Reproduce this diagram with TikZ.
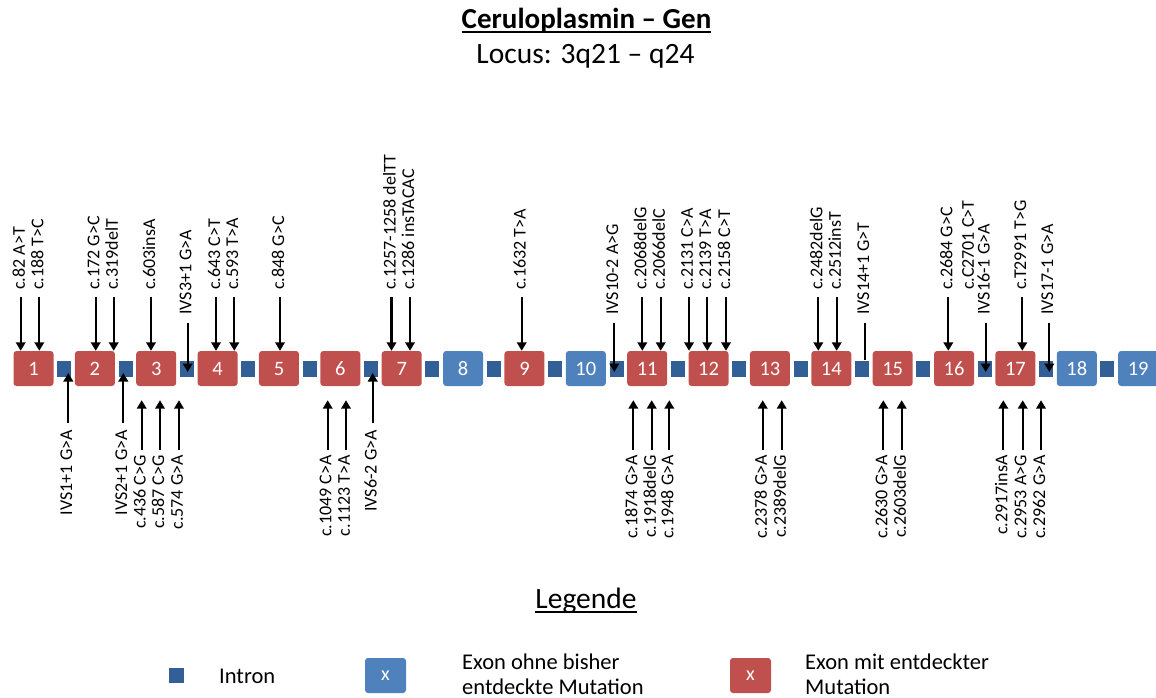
\documentclass[tikz,border=0pt]{standalone}
\usepackage{fontspec}
\setmainfont{Carlito}
\usetikzlibrary{arrows.meta,calc}
\definecolor{exonred}{HTML}{C0504D}
\definecolor{exonblue}{HTML}{4F81BD}
\definecolor{introncol}{RGB}{50,96,150}

\begin{document}
\begin{tikzpicture}[x=1pt,y=-1pt,
  exon/.style={rectangle, rounded corners=3pt, minimum width=40pt, minimum height=35pt,
    inner sep=0pt, text=white, font=\fontsize{20.5}{22}\selectfont},
  intron/.style={rectangle, fill=introncol, minimum width=14pt, minimum height=16pt, inner sep=0pt},
  mlabel/.style={rotate=90, inner sep=0pt, font=\fontsize{18}{20}\selectfont},
  uplabel/.style={mlabel, anchor=west},
  downlabel/.style={mlabel, anchor=east},
  arr/.style={line width=2.2pt, -{Triangle[length=8.5pt,width=9.5pt]}},
  stem/.style={line width=2.2pt},
  heading/.style={anchor=base, inner sep=0pt, font=\fontsize{29.5}{32}\selectfont},
  legtext/.style={anchor=base west, inner sep=0pt, align=left, font=\fontsize{22.5}{25}\selectfont},
]
\useasboundingbox (0,0) rectangle (1156,698);

% Title block
\node[heading, font=\bfseries\fontsize{29}{32}\selectfont] (title) at (586.5,29) {Ceruloplasmin – Gen};
\draw[line width=1.5pt] ([yshift=-3pt]title.base west) -- ([yshift=-3pt]title.base east);
\node[heading] (locus) at (585.5,64) {Locus: 3q21 – q24};

% Introns
\foreach \k in {1,...,18}
  \node[intron] (i\k) at ({33.5+(\k-0.5)*61.37},368.5) {};

% Exons
\foreach \k/\c in {1/exonred,2/exonred,3/exonred,4/exonred,5/exonred,6/exonred,7/exonred,
  8/exonblue,9/exonred,10/exonblue,11/exonred,12/exonred,13/exonred,14/exonred,15/exonred,
  16/exonred,17/exonred,18/exonblue,19/exonblue}
  \node[exon, fill=\c] (e\k) at ({33.5+(\k-1)*61.37},368.5) {\k};

% Mutations above the gene, pointing into exons
\foreach \x/\t/\e [count=\n] in {
  20.7/c.82 A>T/1, 39.3/c.188 T>C/1, 95.7/c.172 G>C/2, 113.7/c.319delT/2,
  151/c.603insA/3, 216/c.643 C>T/4, 234.3/c.593 T>A/4, 280/c.848 G>C/5,
  391.5/c.1257-1258 delTT/7, 410/c.1286 insTACAC/7, 521.7/c.1632 T>A/9,
  642.3/c.2068delG/11, 660.7/c.2066delC/11, 689/c.2131 C>A/12, 707.3/c.2139 T>A/12,
  726/c.2158 C>T/12, 818.3/c.2482delG/14, 836.7/c.2512insT/14, 948.3/c.2684 G>C/16,
  1022.3/c.T2991 T>G/17}
{
  \node[uplabel] (tl\n) at (\x-2,290) {\t};
  \coordinate (ta\n) at (\x,297);
  \draw[arr] (ta\n) -- (ta\n |- e\e.north);
}

% Mutations above the gene, pointing into introns
\foreach \x/\t/\e [count=\n] in {
  187.7/IVS3+1 G>A/3, 614.3/IVS10-2 A>G/10, 985.7/IVS16-1 G>A/16, 1049.3/IVS17-1 G>A/17}
{
  \node[uplabel] (til\n) at (\x-2,315) {\t};
  \coordinate (tia\n) at (\x,323);
  \draw[arr] (tia\n) -- ($(tia\n |- i\e.center)+(0,3.5)$);
}
\node[uplabel] (tis) at (863.3,315) {IVS14+1 G>T};
\coordinate (tisa) at (865.3,323);
\draw[stem] (tisa) -- (tisa |- i14.north);
\node[uplabel] (tc) at (968,290) {c.C2701 C>T};

% Mutations below the gene, pointing into exons
\foreach \x/\t/\e [count=\n] in {
  141.7/c.436 C>G/3, 160/c.587 C>G/3, 179/c.574 G>A/3, 327.7/c.1049 C>A/6,
  346/c.1123 T>A/6, 633.3/c.1874 G>A/11, 651.7/c.1918delG/11, 669.3/c.1948 G>A/11,
  762.7/c.2378 G>A/13, 781.7/c.2389delG/13, 883.3/c.2630 G>A/15, 901.7/c.2603delG/15,
  1003.3/c.2917insA/17, 1022.7/c.2953 A>G/17, 1041/c.2962 G>A/17}
{
  \node[downlabel] (bl\n) at (\x-2,455) {\t};
  \coordinate (ba\n) at (\x,450);
  \draw[arr] (ba\n) -- ($(ba\n |- e\e.south)+(0,14)$);
}

% Mutations below the gene, pointing into introns
\foreach \x/\t/\e [count=\n] in {
  68.3/IVS1+1 G>A/1, 123.3/IVS2+1 G>A/2, 372.7/IVS6-2 G>A/6}
{
  \node[downlabel] (bil\n) at (\x-2,430) {\t};
  \coordinate (bia\n) at (\x,423);
  \draw[arr] (bia\n) -- ($(bia\n |- i\e.center)+(0,4.5)$);
}

% Legend
\node[heading] (leg) at (586,608) {Legende};
\draw[line width=1.3pt] ([yshift=-4pt]leg.base west) -- ([yshift=-4pt]leg.base east);

\node[intron, minimum width=15pt, minimum height=15pt] (li) at (176.5,675.5) {};
\node[legtext] (lit) at (219,683) {Intron};

\node[exon, fill=exonblue, minimum width=41pt, font=\fontsize{20}{22}\selectfont] (lb) at (385.5,675.5) {x};
\node[legtext] (lbt) at (462,694) {Exon ohne bisher\\entdeckte Mutation};

\node[exon, fill=exonred, minimum width=41pt, font=\fontsize{20}{22}\selectfont] (lr) at (750.5,675.5) {x};
\node[legtext] (lrt) at (805,694) {Exon mit entdeckter\\Mutation};
\end{tikzpicture}
\end{document}
